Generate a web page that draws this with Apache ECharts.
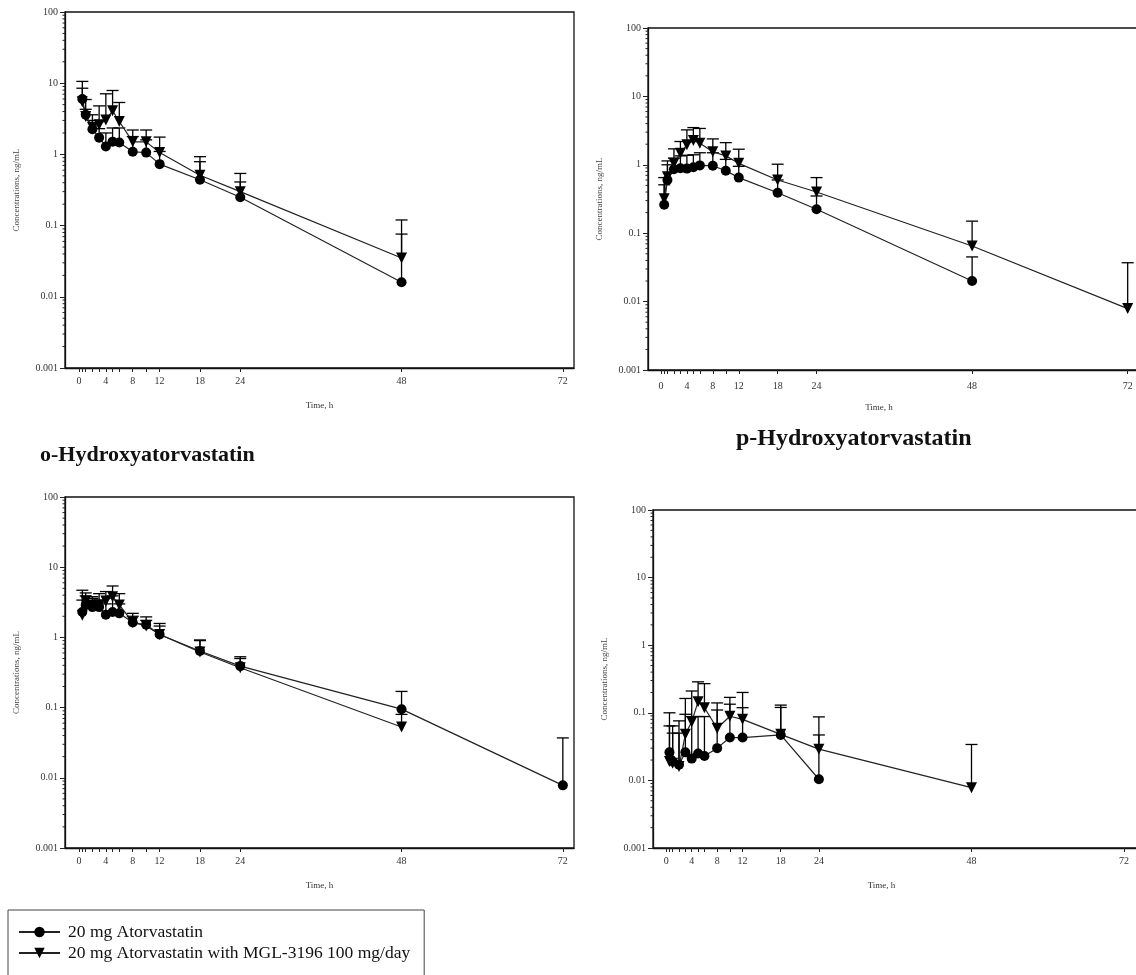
<!DOCTYPE html>
<html>
<head>
<meta charset="utf-8">
<title>Plasma concentration–time profiles</title>
<script src="https://cdn.jsdelivr.net/npm/echarts@6/dist/echarts.min.js"></script>
<style>
  html, body { margin: 0; padding: 0; background: #fff; }
  #chart { width: 1136px; height: 975px; }
</style>
</head>
<body>
<div id="chart"></div>
<script>
// Nominal sampling times (h)
const sampleTimes = [0.5, 1, 2, 3, 4, 5, 6, 8, 10, 12, 18, 24, 48, 72];
const xTickValues = [0, 0.5, 1, 2, 3, 4, 5, 6, 8, 10, 12, 18, 24, 48, 72];
const xLabelValues = [0, 4, 8, 12, 18, 24, 48, 72];
const yDecades = [0.001, 0.01, 0.1, 1, 10, 100];

const seriesNames = ['20 mg Atorvastatin', '20 mg Atorvastatin with MGL-3196 100 mg/day'];

// Panel 1 (top left) – mean and mean+SD, ng/mL
const p1Ref   = [6.0, 3.6, 2.26, 1.72, 1.29, 1.51, 1.47, 1.09, 1.06, 0.73, 0.44, 0.25, 0.016, null];
const p1RefHi = [8.5, 4.3, 3.0, 2.3, 2.0, 2.35, 2.35, 1.78, 1.6, 1.1, 0.79, 0.41, 0.076, null];
const p1Mgl   = [5.5, 3.4, 2.4, 2.6, 3.05, 4.1, 2.9, 1.5, 1.5, 1.06, 0.51, 0.30, 0.035, null];
const p1MglHi = [10.6, 5.9, 3.6, 4.8, 7.1, 7.9, 5.36, 2.2, 2.2, 1.75, 0.93, 0.54, 0.12, null];

// Panel 2 (top right)
const p2Ref   = [0.26, 0.60, 0.86, 0.89, 0.88, 0.92, 0.98, 0.97, 0.82, 0.65, 0.39, 0.224, 0.020, null];
const p2RefHi = [0.51, 1.0, 1.25, 1.35, 1.38, 1.4, 1.5, 1.5, 1.2, 0.95, 0.6, 0.35, 0.045, null];
const p2Mgl   = [0.32, 0.67, 1.05, 1.48, 1.96, 2.26, 2.07, 1.55, 1.35, 1.05, 0.60, 0.40, 0.065, 0.0079];
const p2MglHi = [0.65, 1.14, 1.71, 2.19, 3.24, 3.5, 3.4, 2.39, 2.11, 1.69, 1.02, 0.65, 0.15, 0.037];

// Panel 3 (bottom left) – o-Hydroxyatorvastatin
const p3Ref   = [2.3, 2.9, 2.7, 2.7, 2.1, 2.3, 2.2, 1.63, 1.51, 1.1, 0.64, 0.39, 0.095, 0.0078];
const p3RefHi = [3.4, 3.9, 3.6, 3.4, 3.0, 3.9, 3.0, 2.2, 1.75, 1.45, 0.92, 0.53, 0.17, 0.037];
const p3Mgl   = [2.07, 3.3, 2.9, 2.9, 3.3, 3.8, 2.9, 1.65, 1.45, 1.1, 0.62, 0.37, 0.053, null];
const p3MglHi = [4.7, 4.3, 3.8, 4.2, 4.5, 5.4, 4.2, 2.0, 1.96, 1.58, 0.9, 0.5, 0.08, null];

// Panel 4 (bottom right) – p-Hydroxyatorvastatin
const p4Ref   = [0.026, 0.019, 0.017, 0.026, 0.021, 0.025, 0.023, 0.030, 0.043, 0.043, 0.047, 0.0104, null, null];
const p4RefHi = [0.10, 0.05, 0.05, 0.095, 0.088, 0.088, 0.088, 0.11, 0.134, 0.119, 0.13, 0.047, null, null];
const p4Mgl   = [0.019, 0.018, 0.016, 0.048, 0.074, 0.146, 0.119, 0.059, 0.089, 0.080, 0.048, 0.029, 0.0078, null];
const p4MglHi = [0.064, 0.064, 0.076, 0.163, 0.21, 0.287, 0.27, 0.14, 0.169, 0.20, 0.12, 0.087, 0.034, null];

const panels = [
  { ref: p1Ref, refHi: p1RefHi, mgl: p1Mgl, mglHi: p1MglHi,
    grid: { left: 65, top: 12, width: 509, height: 356 }, xMin: -2.08, xMax: 73.66, nameShift: 0, labelMargin: 8 },
  { ref: p2Ref, refHi: p2RefHi, mgl: p2Mgl, mglHi: p2MglHi,
    grid: { left: 648, top: 28, width: 492, height: 342 }, xMin: -2.0, xMax: 73.9, nameShift: 30, labelMargin: 11 },
  { ref: p3Ref, refHi: p3RefHi, mgl: p3Mgl, mglHi: p3MglHi,
    grid: { left: 65, top: 497, width: 509, height: 351 }, xMin: -2.08, xMax: 73.66, nameShift: 0, labelMargin: 8 },
  { ref: p4Ref, refHi: p4RefHi, mgl: p4Mgl, mglHi: p4MglHi,
    grid: { left: 653, top: 510, width: 487, height: 338 }, xMin: -2.09, xMax: 74.5, nameShift: 30, labelMargin: 8 }
];

const FONT = '"Liberation Serif", "DejaVu Serif", serif';

// minor log ticks 2..9 inside each decade
const yMinor = [];
for (let i = 0; i < yDecades.length - 1; i++) {
  for (let k = 2; k <= 9; k++) yMinor.push(+(k * yDecades[i]).toPrecision(3));
}

function pairs(vals) {
  return sampleTimes.map((t, i) => [t, vals[i]]);
}
function barRows(vals, hi) {
  const rows = [];
  sampleTimes.forEach((t, i) => {
    if (vals[i] != null && hi[i] != null) rows.push([t, vals[i], hi[i]]);
  });
  return rows;
}

// upper SD whisker: stem from the mean up to mean+SD, with a cap
function renderErrorBar(params, api) {
  const t = api.value(0);
  const p0 = api.coord([t, api.value(1)]);
  const p1 = api.coord([t, api.value(2)]);
  const half = 6;
  const style = { stroke: '#000', lineWidth: 1.3 };
  return {
    type: 'group',
    children: [
      { type: 'line', shape: { x1: p0[0], y1: p0[1], x2: p1[0], y2: p1[1] }, style },
      { type: 'line', shape: { x1: p1[0] - half, y1: p1[1], x2: p1[0] + half, y2: p1[1] }, style }
    ]
  };
}

function renderMinorTick(params, api) {
  const y = api.coord([0, api.value(0)])[1];
  const x = params.coordSys.x;
  return {
    type: 'line',
    shape: { x1: x - 2.5, y1: y, x2: x, y2: y },
    style: { stroke: '#222', lineWidth: 1 }
  };
}

const grids = [], xAxes = [], yAxes = [], series = [];

panels.forEach((p, gi) => {
  grids.push(Object.assign({
    show: true, borderColor: '#111', borderWidth: 1.3, backgroundColor: 'transparent',
    containLabel: false, outerBoundsMode: 'none'
  }, p.grid));

  xAxes.push({
    gridIndex: gi, type: 'value', min: p.xMin, max: p.xMax,
    name: 'Time, h', nameLocation: 'middle', nameGap: 33,
    nameTextStyle: { fontFamily: FONT, fontSize: 9, color: '#333', padding: [0, p.nameShift, 0, 0] },
    axisLine: { show: true, onZero: false, lineStyle: { color: '#111', width: 1.3 } },
    axisTick: { show: true, length: 4, customValues: xTickValues, lineStyle: { color: '#222', width: 1 } },
    axisLabel: { customValues: xLabelValues, fontFamily: FONT, fontSize: 10, color: '#333', margin: p.labelMargin },
    splitLine: { show: false }
  });

  yAxes.push({
    gridIndex: gi, type: 'log', logBase: 10, min: 0.001, max: 100,
    name: 'Concentrations, ng/mL', nameLocation: 'middle', nameGap: 44,
    nameTextStyle: { fontFamily: FONT, fontSize: 9, color: '#444' },
    axisLine: { show: true, onZero: false, lineStyle: { color: '#111', width: 1.3 } },
    axisTick: { show: true, length: 5, lineStyle: { color: '#222', width: 1 } },
    axisLabel: {
      fontFamily: FONT, fontSize: 10, color: '#333', margin: 7,
      formatter: v => String(+Number(v).toPrecision(3))
    },
    splitLine: { show: false }
  });

  series.push({
    type: 'custom', xAxisIndex: gi, yAxisIndex: gi, z: 1, silent: true,
    renderItem: renderMinorTick, data: yMinor.map(v => [v]), encode: { y: 0 }
  });

  series.push({
    type: 'custom', xAxisIndex: gi, yAxisIndex: gi, z: 1, silent: true,
    renderItem: renderErrorBar, data: barRows(p.ref, p.refHi), encode: { x: 0, y: [1, 2] }
  });
  series.push({
    type: 'custom', xAxisIndex: gi, yAxisIndex: gi, z: 1, silent: true,
    renderItem: renderErrorBar, data: barRows(p.mgl, p.mglHi), encode: { x: 0, y: [1, 2] }
  });

  series.push({
    name: seriesNames[0], type: 'line', xAxisIndex: gi, yAxisIndex: gi, z: 3,
    data: pairs(p.ref), symbol: 'circle', symbolSize: 10, showSymbol: true,
    itemStyle: { color: '#000', borderWidth: 0 },
    lineStyle: { color: '#222', width: 1.2 }, connectNulls: false
  });
  series.push({
    name: seriesNames[1], type: 'line', xAxisIndex: gi, yAxisIndex: gi, z: 3,
    data: pairs(p.mgl), symbol: 'triangle', symbolRotate: 180, symbolSize: 11, showSymbol: true,
    itemStyle: { color: '#000', borderWidth: 0 },
    lineStyle: { color: '#222', width: 1.2 }, connectNulls: false
  });
});

const chart = echarts.init(document.getElementById('chart'), null, { renderer: 'canvas' });
chart.setOption({
  animation: false,
  backgroundColor: '#fff',
  title: [
    { text: 'o-Hydroxyatorvastatin', left: 40, top: 444, padding: 0,
      textStyle: { fontFamily: FONT, fontWeight: 'bold', fontSize: 22, color: '#111' } },
    { text: 'p-Hydroxyatorvastatin', left: 736, top: 427, padding: 0,
      textStyle: { fontFamily: FONT, fontWeight: 'bold', fontSize: 24, color: '#111' } }
  ],
  legend: {
    data: seriesNames, orient: 'vertical', left: 8, top: 910, height: 80,
    padding: [13, 14, 24, 10], itemGap: 3, itemWidth: 41, itemHeight: 13,
    borderColor: '#444', borderWidth: 1, selectedMode: false,
    textStyle: { fontFamily: FONT, fontSize: 17.5, color: '#111', padding: [0, 0, 0, 3] }
  },
  tooltip: { show: false },
  grid: grids,
  xAxis: xAxes,
  yAxis: yAxes,
  series
});
</script>
</body>
</html>
